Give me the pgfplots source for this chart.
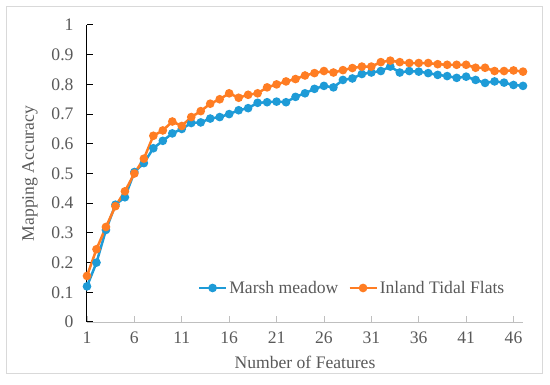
\documentclass[border=0pt]{standalone}
\usepackage{pgfplots}
\pgfplotsset{compat=1.18}
\usepackage{fontspec}
\setmainfont{Liberation Serif}
\definecolor{mblue}{RGB}{30,155,215}
\definecolor{morange}{RGB}{255,125,35}
\definecolor{txt}{RGB}{89,89,89}
\definecolor{framec}{RGB}{217,217,217}
\begin{document}
\begin{tikzpicture}[x=1pt,y=1pt]
\path (0,0) rectangle (550,385);
\draw[framec,line width=1pt] (6,11) rectangle (542,378);
\begin{axis}[
  at={(87pt,63pt)}, anchor=south west,
  scale only axis, width=436pt, height=297pt,
  xmin=1, xmax=47, ymin=0, ymax=1,
  axis lines*=left,
  x axis line style={draw=black!25, line width=0.8pt},
  y axis line style={draw=black, line width=1pt},
  xtick={1,6,11,16,21,26,31,36,41,46},
  ytick={0,0.1,0.2,0.3,0.4,0.5,0.6,0.7,0.8,0.9,1},
  yticklabels={0,0.1,0.2,0.3,0.4,0.5,0.6,0.7,0.8,0.9,1},
  tick align=inside,
  major tick length=6pt,
  xtick style={draw=black!25, line width=0.8pt},
  ytick style={draw=black, line width=1pt},
  /pgf/number format/assume math mode=true,
  tick label style={font=\fontsize{17.6}{20}\selectfont, text=txt},
  yticklabel style={xshift=-10pt},
  xticklabel style={yshift=-6pt},
  label style={font=\fontsize{17.6}{20}\selectfont, text=txt},
  xlabel={Number of Features},
  ylabel={Mapping Accuracy},
  xlabel style={at={(axis description cs:0.5,-0.135)}, anchor=center},
  ylabel style={at={(axis description cs:-0.131,0.5)}, anchor=center},
  legend columns=2,
  legend style={at={(axis description cs:0.608,0.1145)}, anchor=center, draw=none, fill=none,
    font=\fontsize{17.6}{20}\selectfont, text=txt,
    /tikz/every even column/.append style={column sep=8pt}},
  legend image code/.code={\draw[mark repeat=2,mark phase=2] plot coordinates {(0pt,0pt) (13.5pt,0pt) (27pt,0pt)};},
  every axis plot/.append style={line width=2.5pt, mark=*, mark size=3pt},
  clip=false,
]
\addplot[color=mblue] coordinates {
(1,0.12) (2,0.20) (3,0.31) (4,0.395) (5,0.42) (6,0.505) (7,0.535) (8,0.585) (9,0.61) (10,0.635)
(11,0.65) (12,0.67) (13,0.672) (14,0.685) (15,0.69) (16,0.70) (17,0.713) (18,0.72) (19,0.738) (20,0.74)
(21,0.742) (22,0.74) (23,0.758) (24,0.77) (25,0.785) (26,0.795) (27,0.79) (28,0.815) (29,0.82) (30,0.835)
(31,0.84) (32,0.845) (33,0.86) (34,0.84) (35,0.845) (36,0.843) (37,0.838) (38,0.832) (39,0.828) (40,0.822)
(41,0.826) (42,0.815) (43,0.805) (44,0.81) (45,0.806) (46,0.798) (47,0.795)};
\addlegendentry{Marsh meadow}
\addplot[color=morange] coordinates {
(1,0.155) (2,0.245) (3,0.32) (4,0.39) (5,0.44) (6,0.50) (7,0.55) (8,0.627) (9,0.645) (10,0.675)
(11,0.66) (12,0.69) (13,0.71) (14,0.735) (15,0.75) (16,0.77) (17,0.755) (18,0.765) (19,0.77) (20,0.79)
(21,0.80) (22,0.81) (23,0.818) (24,0.83) (25,0.838) (26,0.845) (27,0.84) (28,0.848) (29,0.855) (30,0.86)
(31,0.86) (32,0.875) (33,0.88) (34,0.875) (35,0.872) (36,0.872) (37,0.872) (38,0.868) (39,0.866) (40,0.866)
(41,0.866) (42,0.856) (43,0.856) (44,0.845) (45,0.845) (46,0.847) (47,0.843)};
\addlegendentry{Inland Tidal Flats}
\end{axis}
\end{tikzpicture}
\end{document}
